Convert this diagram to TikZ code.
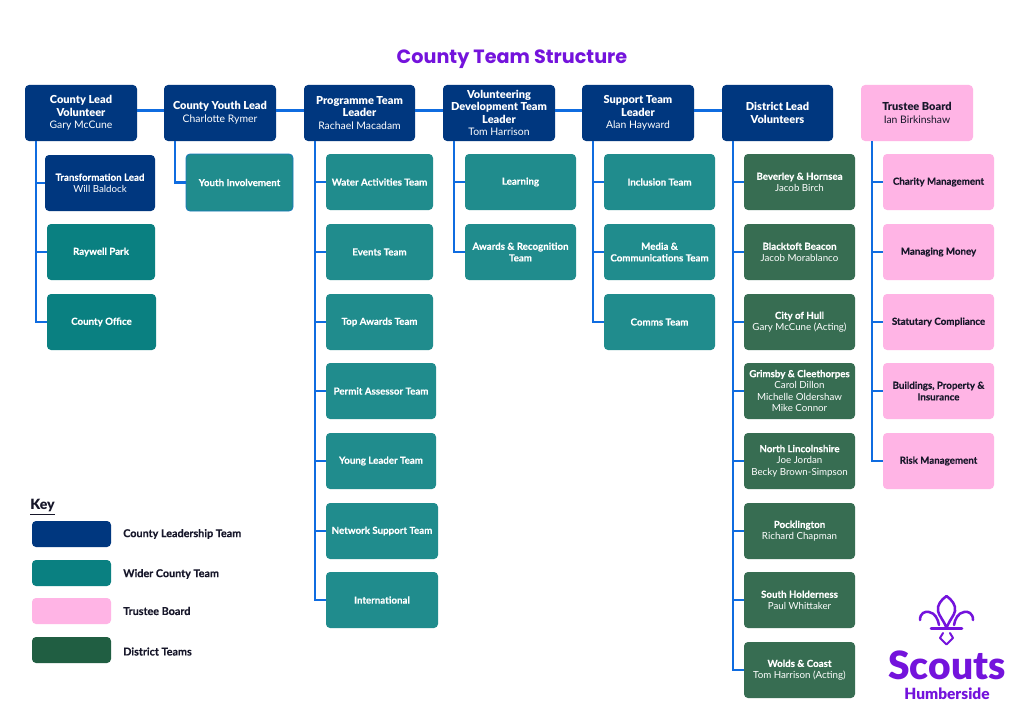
\documentclass[tikz,border=0pt]{standalone}
\usepackage{fontspec}
\setmainfont{Lato}[BoldFeatures={FakeBold=0.25}]
\newfontfamily\heavy{Lato}[UprightFont=* Black]
\newfontfamily\titlefont{Poppins}
\definecolor{navy}{HTML}{00377F}
\definecolor{tealA}{HTML}{208C8D}
\definecolor{tealB}{HTML}{0A8081}
\definecolor{pinkB}{HTML}{FFB4E5}
\definecolor{greenB}{HTML}{376D52}
\definecolor{greenK}{HTML}{205E42}
\definecolor{linkB}{HTML}{0F6CE0}
\definecolor{purpleS}{HTML}{7413DC}
\definecolor{inkD}{HTML}{17172A}
\tikzset{
  base/.style={rounded corners=3pt,inner sep=0pt,outer sep=0pt,align=center,text=white,
    font=\fontsize{7.3}{8.7}\selectfont},
  lead/.style={base,fill=navy,font=\fontsize{7.8}{9.4}\selectfont\let\tb\heavytb},
  leadP/.style={base,fill=pinkB,text=inkD,font=\fontsize{7.8}{9.4}\selectfont\let\tb\heavytb},
  teamA/.style={base,fill=tealA},
  teamB/.style={base,fill=tealB},
  teamN/.style={base,fill=navy},
  teamY/.style={base,fill=tealA,draw=linkB!55!tealA,line width=.6pt},
  teamP/.style={base,fill=pinkB,text=inkD},
  teamG/.style={base,fill=greenB},
  link/.style={draw=linkB,line width=2.2pt},
  keytext/.style={anchor=west,inner sep=0pt,text=inkD,font=\fontsize{8.1}{9}\selectfont\bfseries},
  logo/.style={draw=purpleS,line width=1.9pt,line cap=round,line join=round},
}
\newcommand{\bx}[7]{\node[#1,minimum width={(#5-#3)*.75pt},minimum height={(#6-#4)*.75pt}] (#2) at ({(#3+#5)/2},{(#4+#6)/2}) {#7};}
\newcommand{\tb}[1]{\textbf{#1}}
\newcommand{\heavytb}[1]{{\fontsize{8.25}{9.4}\selectfont\heavy #1}}
\newcommand{\spine}[3]{\draw[link] ([xshift=#3*.75pt]#1.south west) |- (#2.west);}
\newcommand{\toplink}[2]{\draw[link] ([yshift=1.7pt]#1.east) -- ([yshift=1.7pt]#2.west);}
\begin{document}
\begin{tikzpicture}[x=.75pt,y=-.75pt]
\useasboundingbox (0,0) rectangle (1024,724);
\fill[white] (0,0) rectangle (1024,724);
\node[text=purpleS,inner sep=0pt,font=\titlefont\fontsize{14.4}{16}\selectfont\bfseries] (title) at (512,59) {County Team Structure};
% top row
\bx{lead}{t1}{25}{85}{137}{141}{\tb{County Lead}\\\tb{Volunteer}\\Gary McCune}
\bx{lead}{t2}{164}{85}{276}{141}{\tb{County Youth Lead}\\Charlotte Rymer}
\bx{lead}{t3}{304}{85}{415}{141}{\tb{Programme Team}\\\tb{Leader}\\Rachael Macadam}
\bx{lead}{t4}{443}{85}{555}{141}{\tb{Volunteering}\\\tb{Development Team}\\\tb{Leader}\\Tom Harrison}
\bx{lead}{t5}{582}{85}{694}{141}{\tb{Support Team}\\\tb{Leader}\\Alan Hayward}
\bx{lead}{t6}{722}{85}{833}{141}{\tb{District Lead}\\\tb{Volunteers}}
\bx{leadP}{t7}{861}{85}{973}{141}{\tb{Trustee Board}\\Ian Birkinshaw}
% column 1
\bx{teamN}{a1}{45}{155}{155}{211}{\tb{Transformation Lead}\\Will Baldock}
\bx{teamB}{a2}{47}{224}{155}{280}{\tb{Raywell Park}}
\bx{teamB}{a3}{47}{294}{156}{350}{\tb{County Office}}
% column 2
\bx{teamY}{b1}{186}{154}{293}{211}{\tb{Youth Involvement}}
% column 3
\bx{teamA}{c1}{326}{154}{433}{210}{\tb{Water Activities Team}}
\bx{teamA}{c2}{326}{224}{433}{280}{\tb{Events Team}}
\bx{teamA}{c3}{326}{294}{433}{350}{\tb{Top Awards Team}}
\bx{teamA}{c4}{326}{363}{436}{419}{\tb{Permit Assessor Team}}
\bx{teamA}{c5}{326}{433}{436}{489}{\tb{Young Leader Team}}
\bx{teamA}{c6}{326}{503}{438}{559}{\tb{Network Support Team}}
\bx{teamA}{c7}{326}{572}{438}{628}{\tb{International}}
% column 4
\bx{teamA}{d1}{465}{154}{576}{210}{\tb{Learning}}
\bx{teamA}{d2}{465}{224}{576}{280}{\tb{Awards \& Recognition}\\\tb{Team}}
% column 5
\bx{teamA}{e1}{604}{154}{715}{210}{\tb{Inclusion Team}}
\bx{teamA}{e2}{604}{224}{715}{280}{\tb{Media \&}\\\tb{Communications Team}}
\bx{teamA}{e3}{604}{294}{715}{350}{\tb{Comms Team}}
% column 6
\bx{teamG}{f1}{744}{154}{855}{210}{\tb{Beverley \& Hornsea}\\Jacob Birch}
\bx{teamG}{f2}{744}{224}{855}{280}{\tb{Blacktoft Beacon}\\Jacob Morablanco}
\bx{teamG}{f3}{744}{294}{855}{350}{\tb{City of Hull}\\Gary McCune (Acting)}
\bx{teamG}{f4}{744}{363}{855}{419}{\tb{Grimsby \& Cleethorpes}\\Carol Dillon\\Michelle Oldershaw\\Mike Connor}
\bx{teamG}{f5}{744}{433}{855}{489}{\tb{North Lincolnshire}\\Joe Jordan\\Becky Brown-Simpson}
\bx{teamG}{f6}{744}{503}{855}{559}{\tb{Pocklington}\\Richard Chapman}
\bx{teamG}{f7}{744}{572}{855}{628}{\tb{South Holderness}\\Paul Whittaker}
\bx{teamG}{f8}{744}{642}{855}{698}{\tb{Wolds \& Coast}\\Tom Harrison (Acting)}
% column 7
\bx{teamP}{g1}{883}{154}{994}{210}{\tb{Charity Management}}
\bx{teamP}{g2}{883}{224}{994}{280}{\tb{Managing Money}}
\bx{teamP}{g3}{883}{294}{994}{350}{\tb{Statutary Compliance}}
\bx{teamP}{g4}{883}{363}{994}{419}{\tb{Buildings, Property \&}\\\tb{Insurance}}
\bx{teamP}{g5}{883}{433}{994}{489}{\tb{Risk Management}}
% connectors
\toplink{t1}{t2}
\toplink{t2}{t3}
\toplink{t3}{t4}
\toplink{t4}{t5}
\toplink{t5}{t6}
\foreach \c in {a1,a2,a3}{\spine{t1}{\c}{11}}
\spine{t2}{b1}{11}
\foreach \c in {c1,c2,c3,c4,c5,c6,c7}{\spine{t3}{\c}{11}}
\foreach \c in {d1,d2}{\spine{t4}{\c}{11}}
\foreach \c in {e1,e2,e3}{\spine{t5}{\c}{11}}
\foreach \c in {f1,f2,f3,f4,f5,f6,f7,f8}{\spine{t6}{\c}{11}}
\foreach \c in {g1,g2,g3,g4,g5}{\spine{t7}{\c}{11}}
% key
\node[anchor=west,inner sep=0pt,text=inkD,font=\fontsize{10.6}{11}\selectfont\heavy] (keyhead) at (30,507) {\underline{Key}};
\bx{base,fill=navy}{k1}{32}{521}{111}{547}{}
\bx{base,fill=tealB}{k2}{32}{560}{111}{586}{}
\bx{base,fill=pinkB}{k3}{32}{598}{111}{624}{}
\bx{base,fill=greenK}{k4}{32}{637}{111}{663}{}
\node[keytext] (kt1) at (123,534) {County Leadership Team};
\node[keytext] (kt2) at (123,574) {Wider County Team};
\node[keytext] (kt3) at (123,611) {Trustee Board};
\node[keytext] (kt4) at (123,651.5) {District Teams};
% logo
\draw[logo] (946.5,596) .. controls (941,600) and (937,605) .. (938,611) .. controls (939,616) and (943,619) .. (946.5,628) .. controls (950,619) and (954,616) .. (955,611) .. controls (956,605) and (952,600) .. (946.5,596) -- cycle;
\draw[logo] (920,620) .. controls (920,613) and (925,611) .. (929,612) .. controls (935,613) and (938,619) .. (939,625);
\draw[logo] (973,620) .. controls (973,613) and (968,611) .. (964,612) .. controls (958,613) and (955,619) .. (954,625);
\draw[logo] (931,628.5) -- (962,628.5);
\draw[logo,line width=1.5pt] (943,633) -- (940,638) -- (946.5,644.5) -- (953,638) -- (950,633);
\node[text=purpleS,inner sep=0pt,font=\fontsize{29.2}{30}\selectfont\heavy] (scouts) at (947,665.5) {Scouts};
\node[text=purpleS,inner sep=0pt,font=\fontsize{11.6}{12}\selectfont\heavy] (hum) at (947,694) {Humberside};
\end{tikzpicture}
\end{document}
